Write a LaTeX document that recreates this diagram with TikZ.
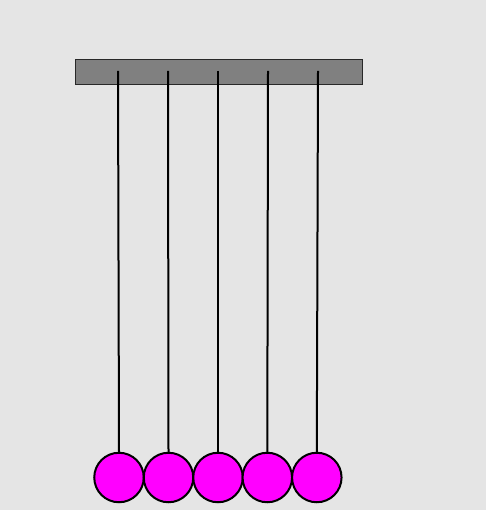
\documentclass[tikz,border=0pt]{standalone}
\begin{document}
\begin{tikzpicture}[x=1pt,y=-1pt,
  bg/.style={fill={rgb,255:red,229;green,229;blue,229}},
  bar/.style={draw={rgb,255:red,40;green,40;blue,40},line width=1.2pt,fill={rgb,255:red,128;green,128;blue,128}},
  ball/.style={circle,draw=black,line width=2pt,fill={rgb,255:red,255;green,0;blue,255},minimum size=49.5pt,inner sep=0pt},
  string/.style={draw=black,line width=2pt}]
\path[bg,use as bounding box] (0,0) rectangle (486,510);
\node[bar,minimum width=287pt,minimum height=25pt,inner sep=0pt,anchor=north west] (bar) at (74.5,59) {};
\foreach \i/\x/\bx in {1/118/119,2/168/168.5,3/218/218,4/268/267.3,5/318/316.8}{
  \coordinate (t\i) at (\x,71);
  \node[ball] (b\i) at (\bx,477.5) {};
}
\foreach \i in {1,...,5}{
  \draw[string] (t\i) -- (b\i.north);
}
\end{tikzpicture}
\end{document}
